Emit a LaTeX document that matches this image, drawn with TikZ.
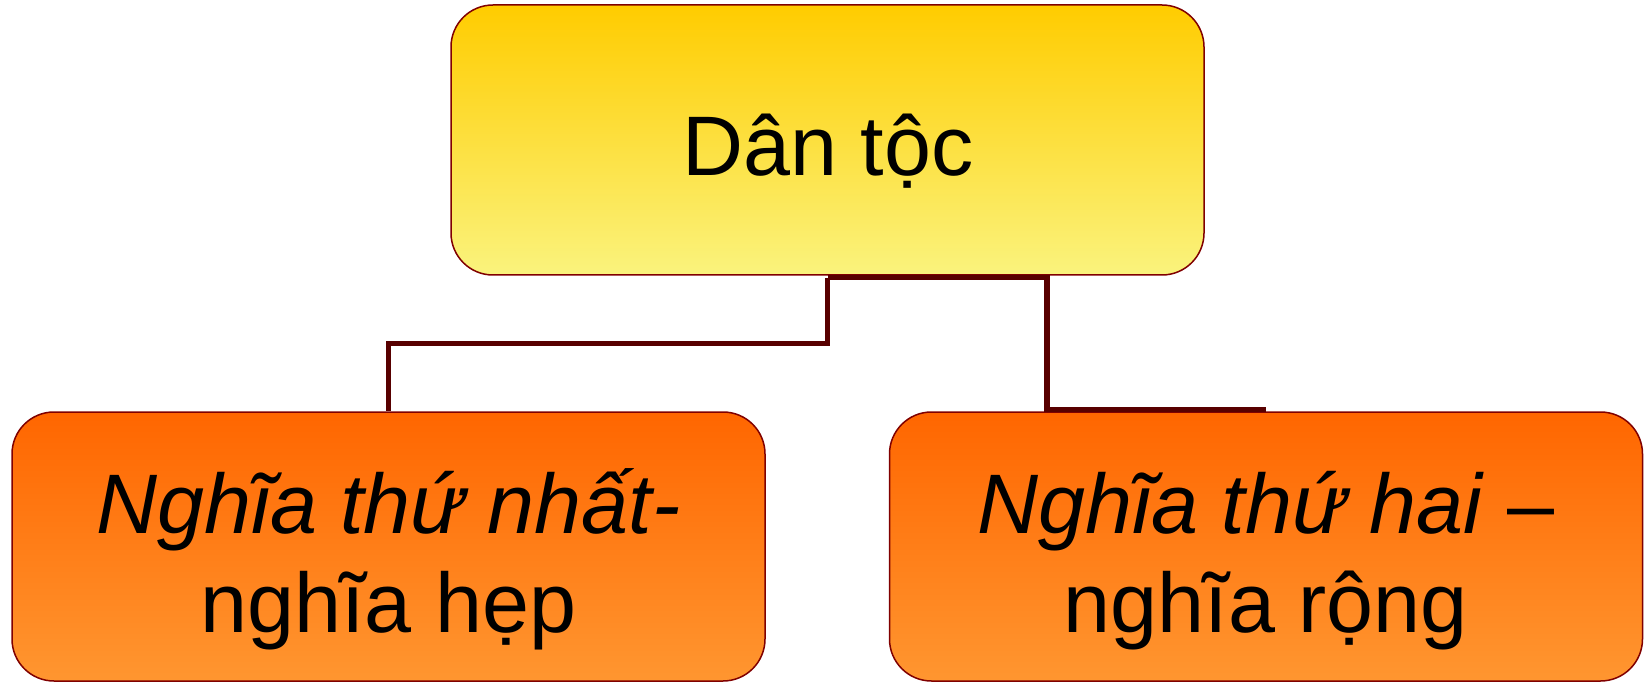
\documentclass[tikz,border=0pt]{standalone}
\usepackage{fontspec}
\setmainfont{Liberation Sans}
\definecolor{goldtop}{RGB}{255,204,0}
\definecolor{goldbot}{RGB}{250,243,125}
\definecolor{orangetop}{RGB}{255,102,0}
\definecolor{orangebot}{RGB}{255,150,48}
\definecolor{boxedge}{RGB}{128,0,0}
\definecolor{linkcol}{RGB}{88,0,0}
\begin{document}
\begin{tikzpicture}[x=1pt,y=1pt,
  box/.style={rounded corners=42pt, draw=boxedge, line width=1.5pt, inner sep=0pt},
  headbox/.style={box, top color=goldtop, bottom color=goldbot,
    minimum width=753pt, minimum height=270pt},
  subbox/.style={box, top color=orangetop, bottom color=orangebot,
    minimum width=753pt, minimum height=269pt},
  lbl/.style={anchor=base, inner sep=0pt, font=\fontsize{84.5}{100}\selectfont},
  link/.style={draw=linkcol, line width=5.5pt}]
\useasboundingbox (0,0) rectangle (1644,681);

% boxes (y measured upward from the bottom edge)
\node[headbox] (top) at (827.5,541) {};
\node[subbox] (left) at (388.5,134.5) {};
\node[subbox] (right) at (1266,134.5) {};

% connectors
\coordinate (tb) at ([yshift=-2pt]top.south);
\draw[link] (tb) -- ++(0,-66) -| (left.north);
\draw[link] (tb) -- ++(219.5,0) |- ([yshift=2pt]right.north);

% texts
\node[lbl] (ttxt) at (828,505) {Dân tộc};
\node[lbl] (l1) at (388.5,148) {\itshape Nghĩa thứ nhất-};
\node[lbl] (l2) at (388.5,49) {nghĩa hẹp};
\node[lbl] (r1) at (1266,148) {\itshape Nghĩa thứ hai\/\upshape{} –};
\node[lbl] (r2) at (1266,49) {nghĩa rộng};
\end{tikzpicture}
\end{document}
